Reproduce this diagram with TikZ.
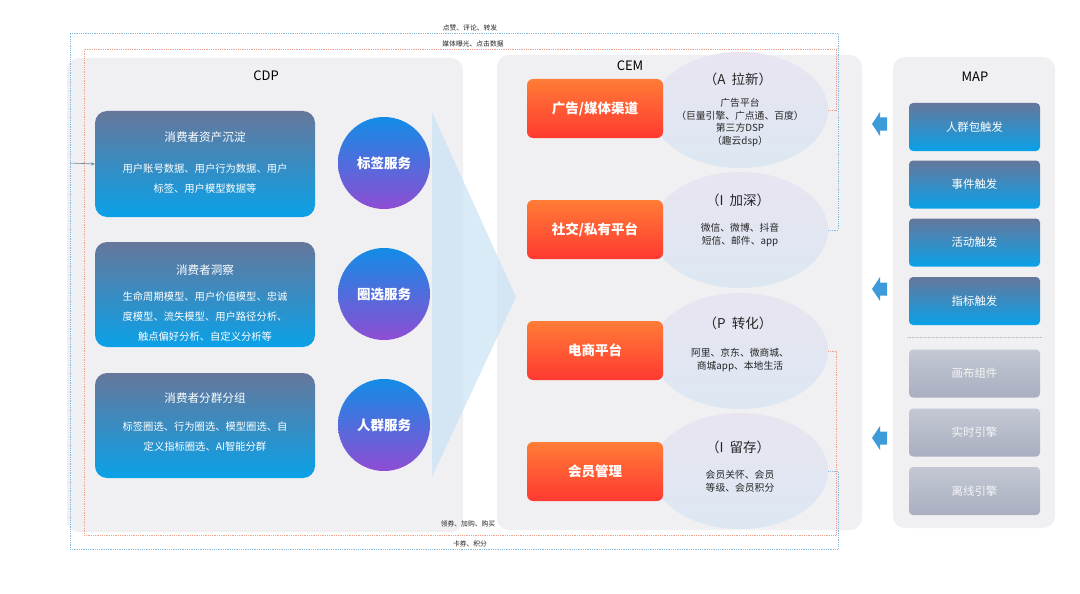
\documentclass[tikz,border=0pt]{standalone}
\usepackage{fontspec}
\setmainfont{Noto Sans CJK SC}
\usetikzlibrary{arrows.meta,shapes.geometric}
\definecolor{panelc}{HTML}{F0F0F3}
\definecolor{cdptop}{HTML}{66779B}
\definecolor{cdpbot}{HTML}{0AA1E8}
\definecolor{circtop}{HTML}{138CE6}
\definecolor{circbot}{HTML}{8E4DD3}
\definecolor{orgtop}{HTML}{FF7C36}
\definecolor{orgbot}{HTML}{FF3931}
\definecolor{elltop}{HTML}{E8E5F1}
\definecolor{ellbot}{HTML}{DCE7F2}
\definecolor{graytop}{HTML}{C4C8D4}
\definecolor{graybot}{HTML}{A9AFC0}
\definecolor{arrowc}{HTML}{3D9BDA}
\definecolor{tric}{HTML}{C9E3F3}
\definecolor{blueline}{HTML}{86BCE0}
\definecolor{redline}{HTML}{F2A08E}
\definecolor{txtc}{HTML}{262626}
\begin{document}
\begin{tikzpicture}[x=1pt,y=-1pt,
  panelbox/.style={fill=panelc, rounded corners=12pt, inner sep=0pt},
  cdpbox/.style={rounded corners=12pt, top color=cdptop, bottom color=cdpbot, minimum width=220pt, inner sep=0pt},
  circ/.style={circle, top color=circtop, bottom color=circbot, minimum size=92pt, inner sep=0pt, text=white, font=\fontsize{13.5}{15}\selectfont\bfseries},
  orgbox/.style={rounded corners=6pt, top color=orgtop, bottom color=orgbot, minimum width=136pt, minimum height=59pt, inner sep=0pt, text=white, font=\fontsize{13.5}{15}\selectfont\bfseries},
  ellp/.style={ellipse, top color=elltop, bottom color=ellbot, minimum width=176pt, minimum height=116pt, inner sep=0pt},
  mapbox/.style={rounded corners=4pt, top color=cdptop, bottom color=cdpbot, minimum width=131pt, minimum height=48pt, inner sep=0pt, text=white, font=\fontsize{11.4}{13}\selectfont},
  graybox/.style={rounded corners=4pt, top color=graytop, bottom color=graybot, minimum width=131pt, minimum height=48pt, inner sep=0pt, text=white!92!gray, font=\fontsize{11.4}{13}\selectfont},
  boxtitle/.style={text=white, font=\fontsize{11.6}{13}\selectfont},
  boxbody/.style={text=white, font=\fontsize{10.3}{20}\selectfont, align=center},
  etitle/.style={text=txtc, font=\fontsize{13.5}{15}\selectfont},
  ebody/.style={text=txtc, font=\fontsize{9.8}{12.5}\selectfont, align=center},
  ptitle/.style={text=black, font=\fontsize{13}{15}\selectfont},
  connlabel/.style={text=txtc, font=\fontsize{6.8}{7}\selectfont, inner sep=1pt},
  blueconn/.style={blueline, densely dotted, line width=0.8pt},
  redconn/.style={redline, densely dotted, line width=0.8pt},
  bigarrow/.pic={\fill[arrowc] (-8,0) -- (0,-12) -- (0,-6.5) -- (7,-6.5) -- (7,6.5) -- (0,6.5) -- (0,12) -- cycle;}
]
\useasboundingbox (0,0) rectangle (1080,594);
\fill[white] (0,0) rectangle (1080,594);

% panels
\node[panelbox, minimum width=396pt, minimum height=474pt] (cdp) at (265,295) {};
\node[panelbox, minimum width=365pt, minimum height=475pt] (cem) at (679.5,292.5) {};
\node[panelbox, minimum width=162pt, minimum height=471pt] (map) at (974,292.5) {};

\node[ptitle] (cdpt) at (266,76) {CDP};
\node[ptitle] (cemt) at (630,66) {CEM};
\node[ptitle] (mapt) at (975,77) {MAP};

% big translucent arrow
\fill[tric, opacity=0.7] (432,112) -- (516,297) -- (432,477) -- cycle;

% CDP boxes
\node[cdpbox, minimum height=106pt] (b1) at (205,164) {};
\node[cdpbox, minimum height=105pt] (b2) at (205,294.5) {};
\node[cdpbox, minimum height=105pt] (b3) at (205,425.5) {};

\node[boxtitle] (b1t) at (205,137) {消费者资产沉淀};
\node[boxbody, anchor=north] (b1b) at (205,160) {用户账号数据、用户行为数据、用户\\标签、用户模型数据等};
\node[boxtitle] (b2t) at (205,270) {消费者洞察};
\node[boxbody, anchor=north] (b2b) at (205,288) {生命周期模型、用户价值模型、忠诚\\度模型、流失模型、用户路径分析、\\触点偏好分析、自定义分析等};
\node[boxtitle] (b3t) at (205,398) {消费者分群分组};
\node[boxbody, anchor=north] (b3b) at (205,418) {标签圈选、行为圈选、模型圈选、自\\定义指标圈选、AI智能分群};

% circles
\node[circ] (c1) at (384,163) {标签服务};
\node[circ] (c2) at (384,294) {圈选服务};
\node[circ] (c3) at (384,425) {人群服务};

% CEM ellipses
\node[ellp] (e1) at (740,110) {};
\node[ellp] (e2) at (740,230) {};
\node[ellp] (e3) at (740,351) {};
\node[ellp] (e4) at (740,471) {};

\node[etitle] (e1t) at (738,79) {（A\ \ 拉新）};
\node[ebody, anchor=north] (e1b) at (740,95) {广告平台\\（巨量引擎、广点通、百度）\\第三方DSP\\（趣云dsp）};
\node[etitle] (e2t) at (738,200) {（I\ \ 加深）};
\node[ebody, anchor=north] (e2b) at (740,220) {微信、微博、抖音\\短信、邮件、app};
\node[etitle] (e3t) at (738,323) {（P\ \ 转化）};
\node[ebody, anchor=north] (e3b) at (740,345) {阿里、京东、微商城、\\商城app、本地生活};
\node[etitle] (e4t) at (738,447) {（I\ \ 留存）};
\node[ebody, anchor=north] (e4b) at (740,467) {会员关怀、会员\\等级、会员积分};

% CEM orange boxes
\node[orgbox] (o1) at (595,108.5) {广告/媒体渠道};
\node[orgbox] (o2) at (595,229.5) {社交/私有平台};
\node[orgbox] (o3) at (595,350.5) {电商平台};
\node[orgbox] (o4) at (595,471.5) {会员管理};

% MAP boxes
\node[mapbox] (m1) at (974.5,127) {人群包触发};
\node[mapbox] (m2) at (974.5,184.5) {事件触发};
\node[mapbox] (m3) at (974.5,242.5) {活动触发};
\node[mapbox] (m4) at (974.5,301) {指标触发};
\coordinate (sepl) at (907,337);
\coordinate (sepr) at (1042,337);
\draw[gray!50, densely dotted, line width=0.6pt] (sepl) -- (sepr);
\node[graybox] (g1) at (974.5,373.5) {画布组件};
\node[graybox] (g2) at (974.5,432.5) {实时引擎};
\node[graybox] (g3) at (974.5,491) {离线引擎};

% MAP arrows
\pic at (880,124) {bigarrow};
\pic at (880,289) {bigarrow};
\pic at (880,438) {bigarrow};

% feedback connectors
\coordinate (bjoin) at (70,163);
\draw[redconn] (e1.east) -| (836,49) -| (84,535) -| (836,351) -- (e3.east);
\draw[blueconn] (e2.east) -| (838,33) -| (bjoin);
\draw[blueconn] (e4.east) -| (838,549) -| (bjoin);
\draw[blueconn, solid, line width=0.6pt, blueline!70!black, -{Stealth[length=4pt,width=3pt]}] (bjoin) -- (b1.west);

\node[connlabel, anchor=south] (l1) at (470,32) {点赞、评论、转发};
\node[connlabel, anchor=south] (l2) at (473,48) {媒体曝光、点击数据};
\node[connlabel, anchor=south] (l3) at (468,528) {领券、加购、购买};
\node[connlabel, anchor=south] (l4) at (470,548) {卡券、积分};
\end{tikzpicture}
\end{document}
